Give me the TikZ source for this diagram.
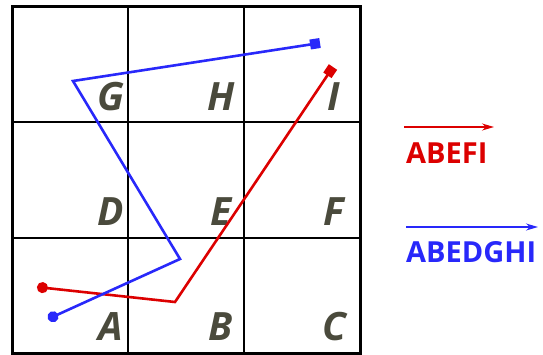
\documentclass[tikz,border=0pt]{standalone}
\usepackage{fontspec}
\setmainfont{Open Sans}
\usetikzlibrary{arrows.meta, positioning}
\definecolor{lettergray}{RGB}{74,74,60}
\definecolor{pathred}{RGB}{220,0,0}
\definecolor{pathblue}{RGB}{40,40,250}

\begin{document}
\begin{tikzpicture}[
  x=1pt, y=-1pt,
  cell/.style={font=\fontsize{39}{39}\selectfont\itshape\bfseries, text=lettergray, inner sep=0pt},
  legend/.style={font=\fontsize{29}{29}\selectfont\bfseries, inner sep=0pt, anchor=west},
  route/.style={line width=2.6pt, line join=miter, {Circle[length=11pt]}-{Square[length=10pt]}},
  legarrow/.style={line width=1.4pt, -{Stealth[length=12pt, width=7pt]}}
]
  \useasboundingbox (0,0) rectangle (543,354);

  % grid
  \draw[line width=1.8pt] (12,122) -- (360,122) (12,238) -- (360,238)
                           (128,6) -- (128,354) (244,6) -- (244,354);
  \draw[line width=3pt] (12,6) rectangle (360,353);

  % cell letters
  \foreach \name/\x/\y in {G/111/97, H/221/97, I/334/97,
                           D/111/212, E/221/212, F/334/212,
                           A/111/327, B/221/327, C/334/327}
    \node[cell] (\name) at (\x,\y) {\name};

  % route ABEFI
  \coordinate (r0) at (37,287);
  \coordinate (r1) at (175,302);
  \coordinate (r2) at (333,67);
  \draw[route, pathred] (r0) -- (r1) -- (r2);

  % route ABEDGHI
  \coordinate (b0) at (48,319);
  \coordinate (b1) at (180,259);
  \coordinate (b2) at (73,81);
  \coordinate (b3) at (320,43);
  \draw[route, pathblue] (b0) -- (b1) -- (b2) -- (b3);

  % legend
  \coordinate (redstart) at (404,127);
  \coordinate (redend) at (494,127);
  \draw[legarrow, pathred] (redstart) -- (redend);
  \node[legend, text=pathred] (redlabel) at (406,153) {ABEFI};

  \coordinate (bluestart) at (406,227);
  \coordinate (blueend) at (538,227);
  \draw[legarrow, pathblue] (bluestart) -- (blueend);
  \node[legend, text=pathblue] (bluelabel) at (406,252) {ABEDGHI};
\end{tikzpicture}
\end{document}
